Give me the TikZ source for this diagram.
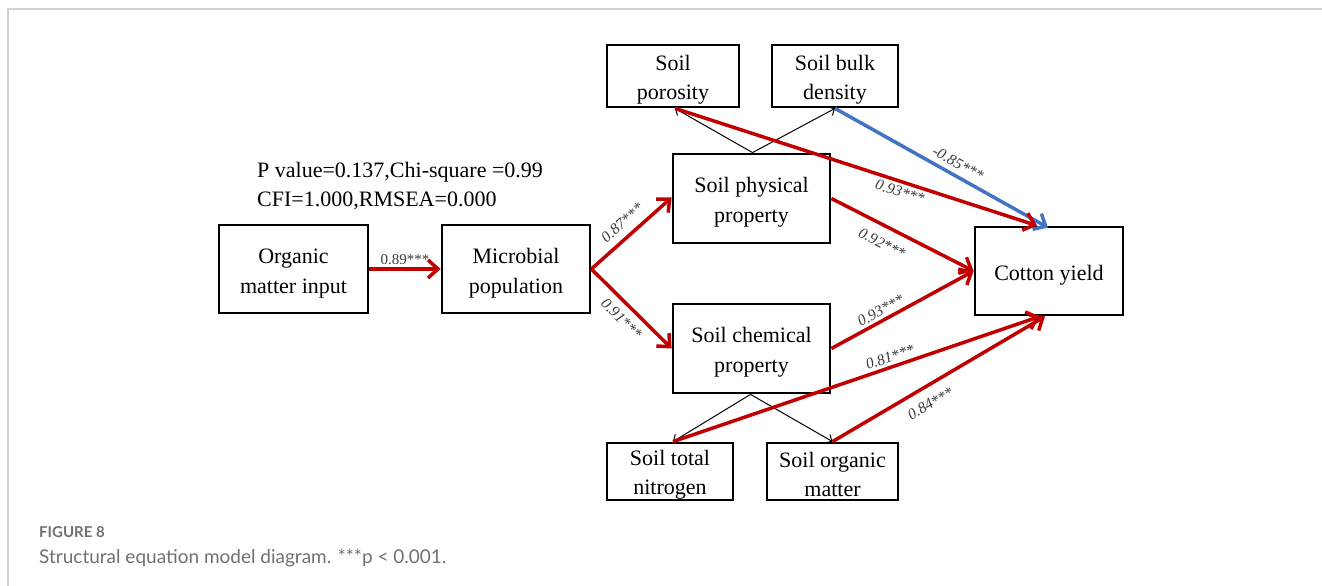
\documentclass[tikz,border=0pt]{standalone}
\usepackage{fontspec}
\setmainfont{Liberation Serif}
\newfontfamily\capfont{Lato}
\usetikzlibrary{arrows.meta}
\definecolor{semred}{HTML}{C00000}
\definecolor{semblue}{HTML}{4472C4}
\definecolor{labgray}{HTML}{3A3A3A}
\definecolor{capgray}{HTML}{707070}
\definecolor{framegray}{HTML}{D0D0D0}
\newcommand\tup{\rule{0pt}{23pt}}
\newcommand\tlow{\rule{0pt}{21pt}}
\tikzset{
  box/.style={draw=black, line width=2.8pt, inner sep=0pt, align=center,
    font=\fontsize{22}{30}\selectfont},
  smallbox/.style={box, font=\fontsize{22}{29}\selectfont},
  redarrow/.style={draw=semred, line width=3.5pt,
    -{Straight Barb[length=10pt,width=18pt]}},
  bluearrow/.style={draw=semblue, line width=3.5pt,
    -{Straight Barb[length=10pt,width=18pt]}},
  thinarrow/.style={draw=black, line width=1pt,
    -{Straight Barb[length=5pt,width=10pt]}},
  coef/.style={font=\fontsize{15.5}{17}\selectfont\itshape, text=labgray, sloped, inner sep=2pt},
}
\begin{document}
\begin{tikzpicture}[x=1pt,y=-1pt]
\useasboundingbox (0,0) rectangle (1322,586);
% frame
\draw[framegray, line width=1.2pt] (8,586) -- (8,9) -- (1322,9);

% boxes
\node[box, minimum width=149pt, minimum height=88pt] (omi) at (293.5,269) {\tup Organic\\matter input};
\node[box, minimum width=148pt, minimum height=88pt] (mic) at (516,269) {\tup Microbial\\population};
\node[box, minimum width=157pt, minimum height=89pt] (phy) at (751.5,198.5) {\tup Soil physical\\property};
\node[box, minimum width=157pt, minimum height=89pt] (che) at (751.5,348.5) {\tup Soil chemical\\property};
\node[box, minimum width=148pt, minimum height=88pt] (cot) at (1049,271) {\tup Cotton yield};
\node[smallbox, minimum width=132pt, minimum height=62pt] (por) at (673,76) {\tup Soil\\porosity};
\node[smallbox, minimum width=126pt, minimum height=62pt] (bul) at (835,76) {\tup Soil bulk\\density};
\node[smallbox, minimum width=126pt, minimum height=57pt] (nit) at (670,471.5) {\tlow Soil total\\nitrogen};
\node[smallbox, minimum width=131pt, minimum height=57pt] (orm) at (832.5,471.5) {\tlow Soil organic\\matter};

% fit statistics
\node[anchor=base west, inner sep=0pt, font=\fontsize{22}{29}\selectfont] (fit1) at (257,177) {P value=0.137,Chi-square =0.99};
\node[anchor=base west, inner sep=0pt, font=\fontsize{22}{29}\selectfont] (fit2) at (257,206) {CFI=1.000,RMSEA=0.000};

% coordinates for connector ends
\coordinate (phyT) at ([xshift=1pt]phy.north);
\coordinate (cheB) at ([xshift=-1pt]che.south);
\coordinate (porB) at ([xshift=2pt]por.south);
\coordinate (nitT) at ([xshift=3pt]nit.north);
\coordinate (cotTa) at ([xshift=-12pt]cot.north);
\coordinate (cotTb) at ([xshift=-1pt,yshift=-2pt]cot.north);
\coordinate (cotBa) at ([xshift=-9pt]cot.south);
\coordinate (cotBb) at ([xshift=-4pt]cot.south);

% thin indicator arrows
\draw[thinarrow] (phyT) -- (porB);
\draw[thinarrow] (phyT) -- (bul.south);
\draw[thinarrow] (cheB) -- (nitT);
\draw[thinarrow] (cheB) -- (orm.north);

% structural paths
\draw[redarrow] (omi.east) -- (mic.west)
  node[midway, above, font=\fontsize{15}{17}\selectfont, text=labgray, inner sep=3pt] {0.89***};
\draw[redarrow] (mic.east) -- ([yshift=1pt]phy.west) node[coef, midway, above, inner sep=7pt] {0.87***};
\draw[redarrow] (mic.east) -- (che.west) node[coef, midway, below, inner sep=7pt] {0.91***};
\draw[bluearrow] (bul.south) -- (cotTb) node[coef, pos=0.55, above, inner sep=5pt] {-0.85***};
\draw[redarrow] (porB) -- (cotTa) node[coef, pos=0.63, below, inner sep=3pt] {0.93***};
\draw[redarrow] (phy.east) -- (cot.west) node[coef, pos=0.41, below, inner sep=10pt] {0.92***};
\draw[redarrow] (che.east) -- (cot.west) node[coef, pos=0.38, above, inner sep=3pt] {0.93***};
\draw[redarrow] (nitT) -- (cotBa) node[coef, pos=0.6, above, inner sep=3pt] {0.81***};
\draw[redarrow] (orm.north) -- (cotBb) node[coef, pos=0.42, below, inner sep=10pt] {0.84***};

% caption
\node[anchor=base west, inner sep=0pt, text=capgray, font=\capfont\bfseries\fontsize{15}{17}\selectfont] (capA) at (39,537) {FIGURE 8};
\node[anchor=base west, inner sep=0pt, text=capgray, font=\capfont\fontsize{19}{23}\selectfont] (capB) at (39,563) {Structural equation model diagram. ***p < 0.001.};
\end{tikzpicture}
\end{document}
